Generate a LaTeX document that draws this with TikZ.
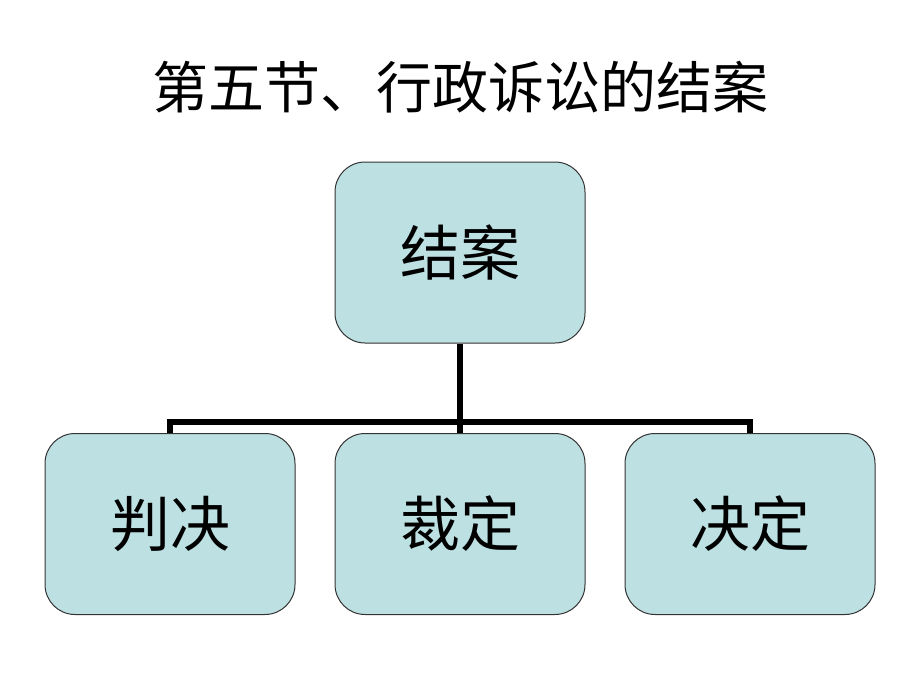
\documentclass[tikz,border=0pt]{standalone}
\usepackage{fontspec}
\newfontfamily\cjk{Noto Sans CJK SC}
\definecolor{boxfill}{HTML}{BDE0E3}
\definecolor{boxline}{HTML}{333333}
\begin{document}
\begin{tikzpicture}[x=1pt,y=-1pt,
  box/.style={draw=boxline, line width=1pt, fill=boxfill, rounded corners=30pt,
    minimum width=250pt, minimum height=181pt, inner sep=0pt,
    font=\cjk\fontsize{60}{62}\selectfont},
  conn/.style={line width=6pt, draw=black, line join=miter},
  titlefont/.style={font=\cjk\fontsize{56}{60}\selectfont}]
\useasboundingbox (0,0) rectangle (920,690);
\node[titlefont] (title) at (460,87) {第五节、行政诉讼的结案};
\node[box] (top) at (460,252.5) {结案};
\node[box] (b1) at (170,524) {判决};
\node[box] (b2) at (460,524) {裁定};
\node[box] (b3) at (750,524) {决定};
\coordinate (j) at (460,422);
\draw[conn] (top.south) -- (b2.north);
\draw[conn] (b1.north) -- (b1.north|-j) -- (b3.north|-j) -- (b3.north);
\end{tikzpicture}
\end{document}
